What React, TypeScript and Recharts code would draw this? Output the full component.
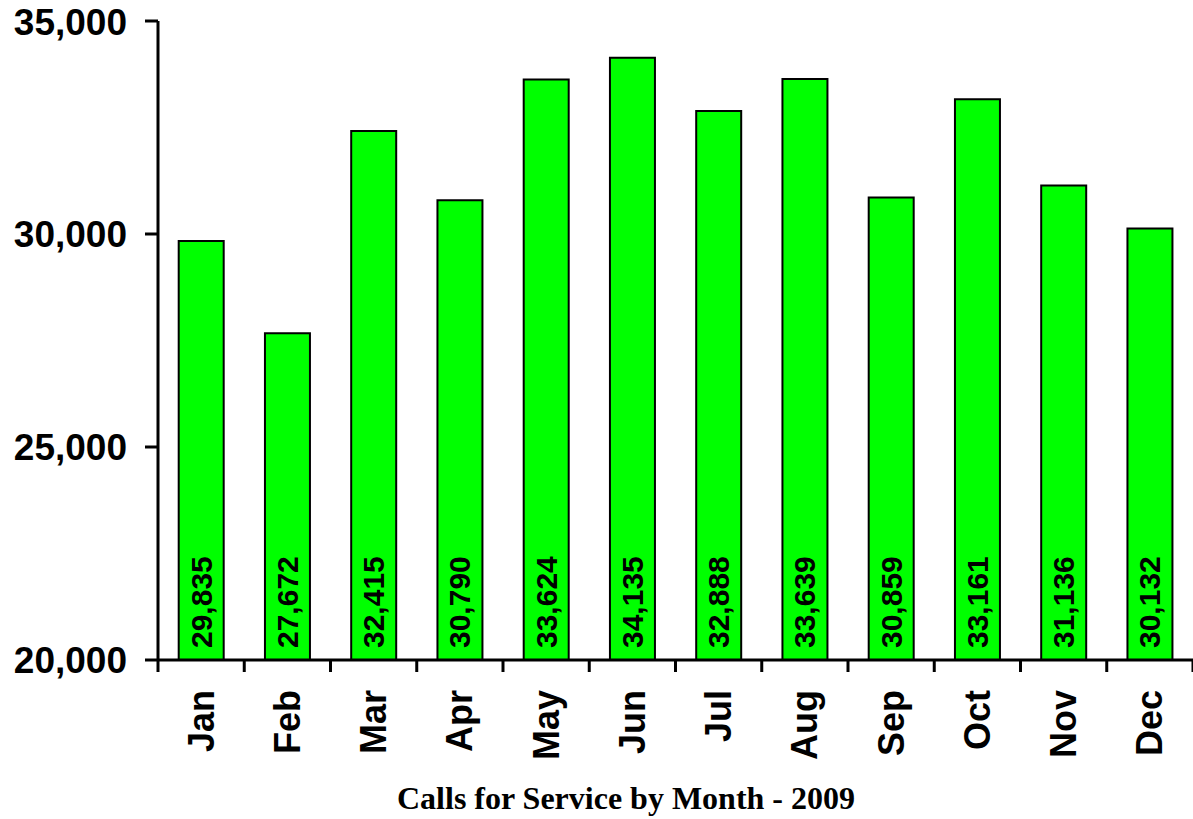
import { Bar, BarChart, LabelList, XAxis, YAxis } from 'recharts';

const months = ['Jan', 'Feb', 'Mar', 'Apr', 'May', 'Jun', 'Jul', 'Aug', 'Sep', 'Oct', 'Nov', 'Dec'];
const calls = [29835, 27672, 32415, 30790, 33624, 34135, 32888, 33639, 30859, 33161, 31136, 30132];
const yTicks = [20000, 25000, 30000, 35000];
const boundaryTicks = [0, 1, 2, 3, 4, 5, 6, 7, 8, 9, 10, 11, 12];
const TITLE = 'Calls for Service by Month - 2009';

const SANS = '"Liberation Sans", Arial, sans-serif';
const fmt = (v: number) => v.toLocaleString('en-US');

// pos = índice del mes, solo para el eje auxiliar de separadores
const datos = months.map((m, i) => ({ mes: m, calls: calls[i], pos: i }));

// etiqueta del mes, girada 90° y alineada arriba
function MonthTick(props: any) {
  const { x, payload } = props;
  const top = 690;
  return (
    <text
      x={x}
      y={top}
      transform={`rotate(-90, ${x}, ${top})`}
      textAnchor="end"
      dominantBaseline="central"
      fontFamily={SANS}
      fontWeight="bold"
      fontSize={36}
      fill="#000"
    >
      {payload.value}
    </text>
  );
}

function ValueLabel(props: any) {
  const { x, y, width, height, value } = props;
  const cx = Number(x) + Number(width) / 2;
  const base = Number(y) + Number(height) - 12;
  return (
    <text
      x={cx}
      y={base}
      transform={`rotate(-90, ${cx}, ${base})`}
      textAnchor="start"
      dominantBaseline="central"
      fontFamily={SANS}
      fontWeight="bold"
      fontSize={30}
      fill="#000"
    >
      {fmt(value)}
    </text>
  );
}

export default function App() {
  return (
    <div style={{ position: 'absolute', left: 0, top: 0, width: 1193, height: 819, background: '#fff' }}>
      <BarChart
        width={1193}
        height={819}
        data={datos}
        margin={{ top: 21, right: 0, bottom: 0, left: 0 }}
        barCategoryGap="24%"
      >
        <XAxis
          xAxisId="b"
          type="number"
          dataKey="pos"
          domain={[0, 12]}
          ticks={boundaryTicks}
          interval={0}
          allowDataOverflow
          height={1}
          axisLine={{ stroke: '#000', strokeWidth: 3 }}
          tickLine={{ stroke: '#000', strokeWidth: 3 }}
          tickSize={12}
          tick={() => <g />}
        />
        <XAxis
          xAxisId="m"
          dataKey="mes"
          height={158}
          axisLine={false}
          tickLine={false}
          interval={0}
          tick={<MonthTick />}
        />
        <YAxis
          domain={[20000, 35000]}
          ticks={yTicks}
          width={158}
          allowDataOverflow
          tickFormatter={fmt}
          axisLine={{ stroke: '#000', strokeWidth: 3 }}
          tickLine={{ stroke: '#000', strokeWidth: 3 }}
          tickSize={13}
          tickMargin={18}
          tick={{ fontFamily: SANS, fontWeight: 'bold', fontSize: 37, fill: '#000' }}
        />
        <Bar
          xAxisId="m"
          dataKey="calls"
          fill="#00FF00"
          stroke="#000"
          strokeWidth={2}
          isAnimationActive={false}
        >
          <LabelList dataKey="calls" content={<ValueLabel />} />
        </Bar>
      </BarChart>
      <div
        style={{
          position: 'absolute',
          left: 0,
          top: 780,
          width: 1252,
          textAlign: 'center',
          fontFamily: '"Liberation Serif", "Times New Roman", serif',
          fontWeight: 'bold',
          fontSize: 32,
          color: '#000',
        }}
      >
        {TITLE}
      </div>
    </div>
  );
}
